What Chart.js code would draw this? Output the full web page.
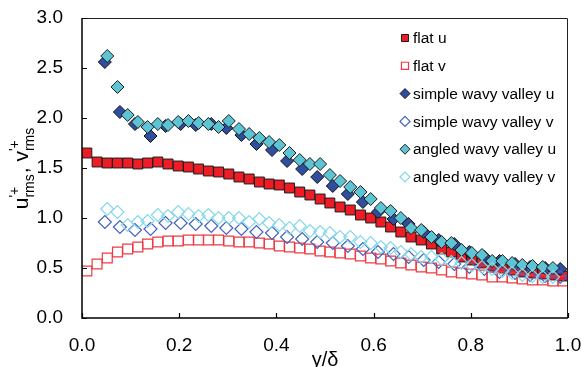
<!DOCTYPE html>
<html>
<head>
<meta charset="utf-8">
<script src="https://cdn.jsdelivr.net/npm/chart.js@4.4.1/dist/chart.umd.min.js"></script>
<style>
  html, body { margin: 0; padding: 0; background: #fff; }
  #wrap { width: 581px; height: 367px; }
</style>
</head>
<body>
<div id="wrap"><canvas id="grafico" width="581" height="367"></canvas></div>
<script>
// ── Datos ─────────────────────────────────────
const xFino = [0.010, 0.031, 0.052, 0.073, 0.094, 0.115, 0.135, 0.156, 0.177, 0.198,
  0.219, 0.240, 0.260, 0.281, 0.302, 0.323, 0.344, 0.365, 0.385, 0.406,
  0.427, 0.448, 0.469, 0.490, 0.510, 0.531, 0.552, 0.573, 0.594, 0.615,
  0.635, 0.656, 0.677, 0.698, 0.719, 0.740, 0.760, 0.781, 0.802, 0.823,
  0.844, 0.865, 0.885, 0.906, 0.927, 0.948, 0.969, 0.990]

const xAngled = [0.052, 0.073, 0.094, 0.115, 0.135, 0.156, 0.177, 0.198,
  0.219, 0.240, 0.260, 0.281, 0.302, 0.323, 0.344, 0.365, 0.385, 0.406,
  0.427, 0.448, 0.469, 0.490, 0.510, 0.531, 0.552, 0.573, 0.594, 0.615,
  0.635, 0.656, 0.677, 0.698, 0.719, 0.740, 0.760, 0.781, 0.802, 0.823,
  0.844, 0.865, 0.885, 0.906, 0.927, 0.948, 0.969]

const xSimple = [0.047, 0.078, 0.109, 0.141, 0.172, 0.203, 0.234, 0.266, 0.297, 0.328,
  0.359, 0.391, 0.422, 0.453, 0.484, 0.516, 0.547, 0.578, 0.609, 0.641,
  0.672, 0.703, 0.734, 0.766, 0.797, 0.828, 0.859, 0.891, 0.922, 0.953, 0.984]

const flatU = [1.65, 1.56, 1.55, 1.55, 1.55, 1.54, 1.55, 1.56, 1.54, 1.52,
  1.51, 1.49, 1.47, 1.46, 1.44, 1.41, 1.39, 1.36, 1.34, 1.33,
  1.30, 1.26, 1.23, 1.19, 1.15, 1.11, 1.08, 1.03, 1.00, 0.96,
  0.91, 0.86, 0.81, 0.78, 0.74, 0.69, 0.66, 0.61, 0.58, 0.55,
  0.52, 0.50, 0.48, 0.46, 0.45, 0.44, 0.43, 0.42]

const flatV = [0.47, 0.54, 0.60, 0.66, 0.69, 0.71, 0.74, 0.76, 0.77, 0.77,
  0.78, 0.78, 0.78, 0.78, 0.77, 0.76, 0.76, 0.75, 0.74, 0.72,
  0.71, 0.70, 0.69, 0.67, 0.66, 0.65, 0.64, 0.62, 0.60, 0.59,
  0.57, 0.55, 0.53, 0.51, 0.50, 0.48, 0.46, 0.45, 0.44, 0.43,
  0.41, 0.41, 0.40, 0.39, 0.38, 0.38, 0.37, 0.37]

const simpleU = [2.56, 2.06, 1.94, 1.82, 1.92, 1.94, 1.93, 1.94, 1.90, 1.83,
  1.74, 1.68, 1.57, 1.49, 1.41, 1.32, 1.24, 1.16, 1.06, 0.99,
  0.94, 0.86, 0.78, 0.74, 0.66, 0.61, 0.57, 0.54, 0.51, 0.50, 0.49]

const simpleV = [0.96, 0.91, 0.88, 0.89, 0.95, 0.95, 0.94, 0.92, 0.90, 0.89,
  0.86, 0.85, 0.81, 0.79, 0.76, 0.75, 0.72, 0.69, 0.66, 0.64,
  0.61, 0.58, 0.56, 0.54, 0.51, 0.49, 0.46, 0.45, 0.43, 0.42, 0.41]

const angledU = [2.62, 2.31, 2.03, 1.96, 1.91, 1.94, 1.93, 1.96, 1.97, 1.95,
  1.94, 1.91, 1.97, 1.89, 1.84, 1.80, 1.76, 1.73, 1.65, 1.58,
  1.54, 1.54, 1.43, 1.37, 1.31, 1.26, 1.19, 1.10, 1.07, 1.00,
  0.90, 0.88, 0.81, 0.76, 0.75, 0.68, 0.65, 0.63, 0.57, 0.57,
  0.55, 0.53, 0.52, 0.51, 0.50]

const angledV = [1.09, 1.06, 0.93, 0.96, 0.97, 1.03, 1.02, 1.06, 1.04, 1.02,
  1.03, 1.00, 1.00, 1.00, 0.96, 0.99, 0.95, 0.93, 0.90, 0.92,
  0.87, 0.86, 0.85, 0.81, 0.81, 0.76, 0.75, 0.71, 0.70, 0.66,
  0.64, 0.61, 0.61, 0.59, 0.56, 0.55, 0.53, 0.51, 0.49, 0.47,
  0.45, 0.43, 0.42, 0.41, 0.41]

const etiquetas = ['flat u', 'flat v', 'simple wavy valley u', 'simple wavy valley v',
  'angled wavy valley u', 'angled wavy valley v']

const ticksX = [0, 0.2, 0.4, 0.6, 0.8, 1.0]
const ticksY = [0, 0.5, 1.0, 1.5, 2.0, 2.5, 3.0]

// ── Helpers ───────────────────────────────────
const puntos = (xs, ys) => ys.map((y, i) => ({ x: xs[i], y }))

const FUENTE = "'Liberation Sans', Arial, sans-serif"

function serie(label, xs, ys, estilo, orden) {
  return {
    label,
    data: puntos(xs, ys),
    showLine: false,
    order: orden,
    pointStyle: estilo.forma,
    pointRadius: estilo.radio,
    pointHoverRadius: estilo.radio,
    pointBackgroundColor: estilo.relleno,
    pointBorderColor: estilo.borde,
    pointBorderWidth: estilo.ancho,
    _estilo: estilo
  }
}

const estilos = [
  { forma: 'rect',    radio: 7,   relleno: '#ee1c25', borde: '#1a1a1a', ancho: 1 },
  { forma: 'rect',    radio: 7,   relleno: 'rgba(0,0,0,0)', borde: '#ef3a42', ancho: 1.2 },
  { forma: 'rectRot', radio: 6.5, relleno: '#2f4e9f', borde: '#111', ancho: 1 },
  { forma: 'rectRot', radio: 6.5, relleno: 'rgba(0,0,0,0)', borde: '#4461bd', ancho: 1.2 },
  { forma: 'rectRot', radio: 6.5, relleno: '#5cc4d4', borde: '#1c1c1c', ancho: 1 },
  { forma: 'rectRot', radio: 6.5, relleno: 'rgba(0,0,0,0)', borde: '#86d8e8', ancho: 1.2 }
]

// ── Plugin: marco, ticks hacia adentro, títulos y leyenda ──
const decoracion = {
  id: 'decoracion',
  afterDraw(chart) {
    const { ctx, chartArea: a, scales } = chart
    ctx.save()

    // marco
    ctx.strokeStyle = '#000'
    ctx.lineWidth = 1.5
    ctx.beginPath()
    ctx.moveTo(a.left, a.top); ctx.lineTo(a.left, a.bottom); ctx.lineTo(a.right, a.bottom)
    ctx.stroke()
    ctx.lineWidth = 1
    ctx.strokeStyle = '#222'
    ctx.beginPath()
    ctx.moveTo(a.left, a.top + 0.5); ctx.lineTo(a.right - 0.5, a.top + 0.5); ctx.lineTo(a.right - 0.5, a.bottom)
    ctx.stroke()

    // ticks hacia adentro
    ctx.lineWidth = 1.2
    ctx.strokeStyle = '#000'
    ctx.beginPath()
    ticksY.forEach(v => {
      const y = Math.round(scales.y.getPixelForValue(v)) + 0.5
      ctx.moveTo(a.left, y); ctx.lineTo(a.left + 5, y)
    })
    ticksX.forEach(v => {
      const x = Math.round(scales.x.getPixelForValue(v)) + 0.5
      ctx.moveTo(x, a.bottom); ctx.lineTo(x, a.bottom - 5)
    })
    ctx.stroke()

    // título eje x
    ctx.fillStyle = '#000'
    ctx.textAlign = 'center'
    ctx.textBaseline = 'alphabetic'
    ctx.font = `20px ${FUENTE}`
    ctx.fillText('y/δ', (a.left + a.right) / 2, 366)

    // título eje y (con super y subíndices)
    const grande = `21px ${FUENTE}`
    const chico  = `14px ${FUENTE}`
    const partes = [
      { t: 'u', f: grande },
      { sup: "'+", sub: 'rms' },
      { t: ', ', f: grande },
      { t: 'v', f: grande },
      { sup: "'+", sub: 'rms' }
    ]
    const ancho = p => {
      if (p.t) { ctx.font = p.f; return ctx.measureText(p.t).width }
      ctx.font = chico
      return Math.max(ctx.measureText(p.sup).width, ctx.measureText(p.sub).width) + 1
    }
    const total = partes.reduce((s, p) => s + ancho(p), 0)
    ctx.translate(28, (a.top + a.bottom) / 2)
    ctx.rotate(-Math.PI / 2)
    ctx.textAlign = 'left'
    let cx = -total / 2
    partes.forEach(p => {
      const w = ancho(p)
      if (p.t) {
        ctx.font = p.f
        ctx.fillText(p.t, cx, 0)
      } else {
        ctx.font = chico
        ctx.fillText(p.sup, cx, -9)
        ctx.fillText(p.sub, cx, 6)
      }
      cx += w
    })
    ctx.restore()

    // leyenda
    ctx.save()
    ctx.font = `15.5px ${FUENTE}`
    ctx.textBaseline = 'middle'
    ctx.textAlign = 'left'
    chart.data.datasets.forEach((ds, i) => {
      const e = ds._estilo
      const y = 38 + i * 27.8
      ctx.fillStyle = e.relleno
      ctx.strokeStyle = e.borde
      ctx.lineWidth = e.ancho
      Chart.helpers.drawPoint(ctx, { pointStyle: e.forma, radius: 5, borderWidth: e.ancho }, 405, y)
      ctx.fillStyle = '#000'
      ctx.fillText(ds.label, 413, y + 1)
    })
    ctx.restore()
  }
}

// ── Gráfico ───────────────────────────────────
const ctx = document.getElementById('grafico').getContext('2d')

new Chart(ctx, {
  type: 'scatter',
  data: {
    datasets: [
      serie(etiquetas[0], xFino, flatU, estilos[0], 6),
      serie(etiquetas[1], xFino, flatV, estilos[1], 5),
      serie(etiquetas[2], xSimple, simpleU, estilos[2], 4),
      serie(etiquetas[3], xSimple, simpleV, estilos[3], 3),
      serie(etiquetas[4], xAngled, angledU, estilos[4], 2),
      serie(etiquetas[5], xAngled, angledV, estilos[5], 1)
    ]
  },
  options: {
    responsive: false,
    animation: false,
    layout: { padding: { top: 18, right: 13, left: 0, bottom: 0 } },
    plugins: {
      legend: { display: false },
      tooltip: { enabled: false }
    },
    scales: {
      x: {
        type: 'linear',
        min: 0, max: 1,
        afterBuildTicks: s => { s.ticks = ticksX.map(v => ({ value: v })) },
        afterFit: s => { s.height = 49; s.paddingLeft = 0; s.paddingRight = 0 },
        ticks: {
          color: '#000',
          font: { family: FUENTE, size: 19 },
          padding: 16,
          maxRotation: 0,
          callback: v => v.toFixed(1)
        },
        grid: { display: false, drawTicks: false },
        border: { display: false }
      },
      y: {
        type: 'linear',
        min: 0, max: 3,
        afterBuildTicks: s => { s.ticks = ticksY.map(v => ({ value: v })) },
        afterFit: s => { s.width = 82; s.paddingTop = 0; s.paddingBottom = 0 },
        ticks: {
          color: '#000',
          font: { family: FUENTE, size: 19 },
          padding: 19,
          callback: v => v.toFixed(1)
        },
        grid: { display: false, drawTicks: false },
        border: { display: false }
      }
    }
  },
  plugins: [decoracion]
})
</script>
</body>
</html>
